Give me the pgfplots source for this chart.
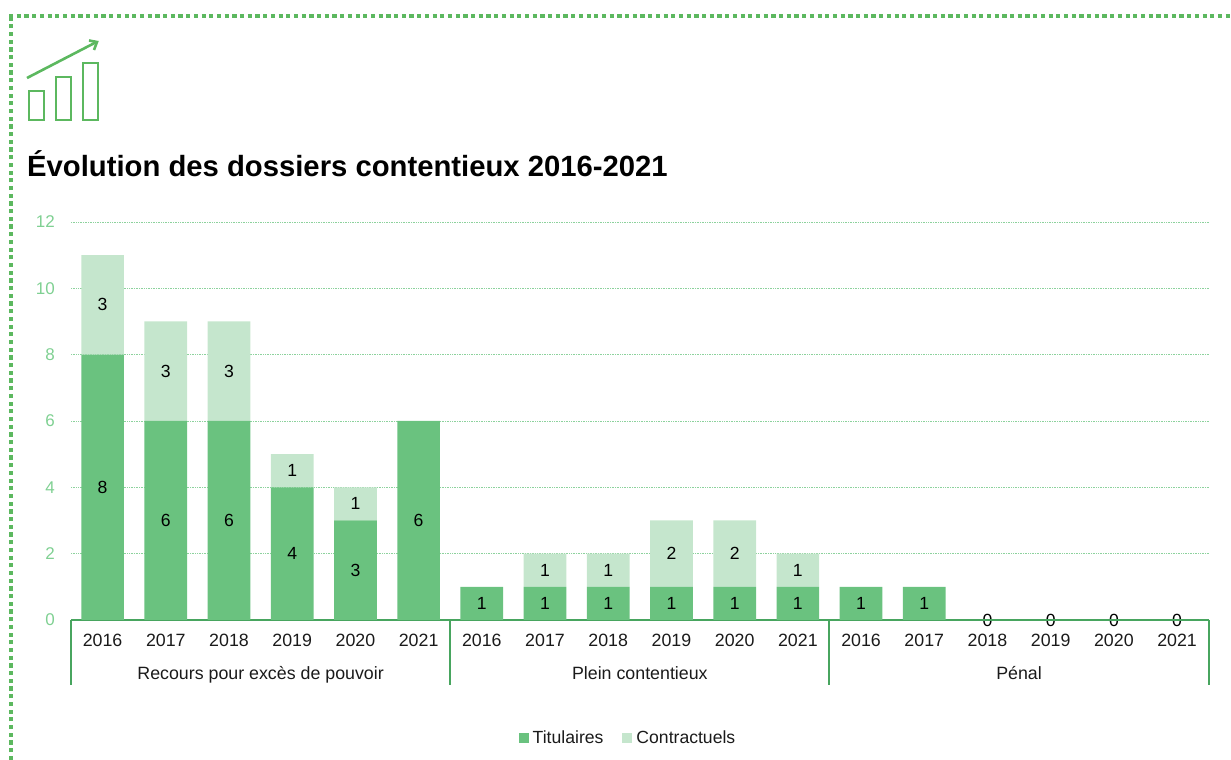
\documentclass[border=0pt]{standalone}
\usepackage{pgfplots}
\pgfplotsset{compat=1.18}
\usepackage{fontspec}
\setmainfont{Liberation Sans}
\definecolor{dark}{HTML}{6AC27F}
\definecolor{light}{HTML}{C5E6CD}
\definecolor{frame}{HTML}{5CB85F}
\definecolor{axisg}{HTML}{48A55F}
\definecolor{gridg}{HTML}{8DD29D}
\definecolor{ticky}{HTML}{7FD092}
\definecolor{ink}{HTML}{1A1A1A}
\begin{document}
\begin{tikzpicture}[x=1pt,y=1pt]
\path[use as bounding box] (0,0) rectangle (1231,760);
% frame
\draw[frame,line width=4pt,dash pattern=on 4.2pt off 3.5pt] (11,0) -- (11,744);
\draw[frame,line width=4pt,dash pattern=on 4.2pt off 3.5pt] (9,744) -- (1231,744);
% icon
\begin{scope}[frame,line width=2.6pt]
\draw (29,640) rectangle (44,669);
\draw (56,640) rectangle (71,683);
\draw (83,640) rectangle (98,697);
\draw (27,682) -- (96.5,718);
\draw (89,719.5) -- (97,718) -- (94,710);
\end{scope}
\node[anchor=base west,inner sep=0pt,font=\bfseries\fontsize{29.25}{32}\selectfont,text=black] at (27,583.5) {Évolution des dossiers contentieux 2016-2021};
\begin{axis}[
  at={(71pt,140pt)},anchor=south west,
  scale only axis,width=1137.7pt,height=398pt,
  xmin=-0.5,xmax=17.5,ymin=0,ymax=12,
  ybar stacked,bar width=42.7pt,
  axis x line*=bottom,axis y line*=left,
  axis line style={draw=none},
  clip=false,
  /pgf/number format/assume math mode=true,
  xtick={0,...,17},
  xticklabels={2016,2017,2018,2019,2020,2021,2016,2017,2018,2019,2020,2021,2016,2017,2018,2019,2020,2021},
  xticklabel style={anchor=base,inner sep=0pt,yshift=-27pt,font=\fontsize{17.8}{20}\selectfont,text=ink},
  ytick={0,2,...,12},
  yticklabel style={anchor=east,inner sep=0pt,xshift=-16pt,font=\fontsize{17}{20}\selectfont,text=ticky,/pgf/number format/assume math mode=true},
  major tick length=0pt,
  ymajorgrids,
  grid style={gridg,line width=0.7pt,densely dotted},
  legend style={at={(557pt,-118pt)},draw=none,fill=none,anchor=center,legend columns=2,inner sep=0pt,
    font=\fontsize{17.6}{20}\selectfont,text=ink,
    /tikz/every odd column/.style={column sep=2pt},
    /tikz/every even column/.style={column sep=17pt}},
  legend cell align=left,
  legend image code/.code={\fill[#1] (0pt,-5pt) rectangle (10pt,5pt);},
  visualization depends on={rawy*10 \as \segh},
  point meta=rawy,
  every node near coord/.style={anchor=center,inner sep=0pt,font=\fontsize{17.6}{20}\selectfont,text=black},
]
\addplot[fill=dark,draw=none,
  nodes near coords={\pgfmathprintnumber{\pgfplotspointmeta}}] coordinates {
(0,8)(1,6)(2,6)(3,4)(4,3)(5,6)(6,1)(7,1)(8,1)(9,1)(10,1)(11,1)(12,1)(13,1)(14,0)(15,0)(16,0)(17,0)};
\addlegendentry{Titulaires}
\addplot[fill=light,draw=none,
  nodes near coords={\ifdim\segh pt<1pt \else\pgfmathprintnumber{\pgfplotspointmeta}\fi}] coordinates {
(0,3)(1,3)(2,3)(3,1)(4,1)(5,0)(6,0)(7,1)(8,1)(9,2)(10,2)(11,1)(12,0)(13,0)(14,0)(15,0)(16,0)(17,0)};
\addlegendentry{Contractuels}
\draw[axisg,line width=2pt] (axis cs:-0.5,0) -- (axis cs:17.5,0);
\draw[axisg,line width=2pt] (axis cs:-0.5,0) -- (axis cs:-0.5,-1.96);
\draw[axisg,line width=2pt] (axis cs:5.5,0) -- (axis cs:5.5,-1.96);
\draw[axisg,line width=2pt] (axis cs:11.5,0) -- (axis cs:11.5,-1.96);
\draw[axisg,line width=2pt] (axis cs:17.5,0) -- (axis cs:17.5,-1.96);
\node[anchor=base,inner sep=0pt,font=\fontsize{17.8}{20}\selectfont,text=ink] at (axis cs:2.5,-1.78) {Recours pour excès de pouvoir};
\node[anchor=base,inner sep=0pt,font=\fontsize{17.8}{20}\selectfont,text=ink] at (axis cs:8.5,-1.78) {Plein contentieux};
\node[anchor=base,inner sep=0pt,font=\fontsize{17.8}{20}\selectfont,text=ink] at (axis cs:14.5,-1.78) {Pénal};
\node[inner sep=0pt,font=\fontsize{17.6}{20}\selectfont,text=black] at (axis cs:14,0) {0};
\node[inner sep=0pt,font=\fontsize{17.6}{20}\selectfont,text=black] at (axis cs:15,0) {0};
\node[inner sep=0pt,font=\fontsize{17.6}{20}\selectfont,text=black] at (axis cs:16,0) {0};
\node[inner sep=0pt,font=\fontsize{17.6}{20}\selectfont,text=black] at (axis cs:17,0) {0};
\end{axis}
\end{tikzpicture}
\end{document}
